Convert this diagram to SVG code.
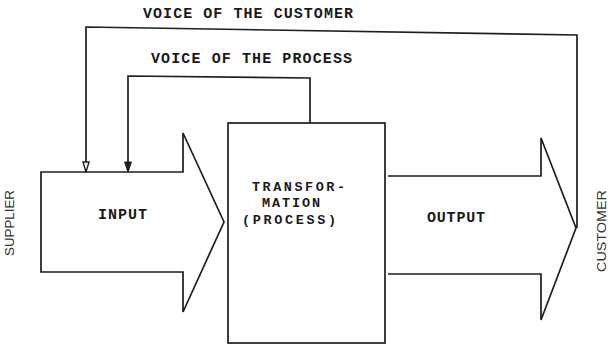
<svg xmlns="http://www.w3.org/2000/svg" width="612" height="347" viewBox="0 0 612 347">
  <defs>
    <style>
      .ln { fill: none; stroke: #1e1e1e; stroke-width: 1.7; stroke-linejoin: miter; }
      .lbl { font-family: "Liberation Mono", "DejaVu Sans Mono", monospace; font-weight: bold; font-size: 15px; fill: #1a1a1a; }
      .box-lbl { font-size: 13.5px; }
      .side { font-family: "Liberation Sans", "DejaVu Sans", sans-serif; font-size: 12px; fill: #333; }
    </style>
    <!-- arrowheads drawn along +x so orient="auto" turns them with the line -->
    <marker id="openHead" markerWidth="12" markerHeight="8" refX="11" refY="4" orient="auto" markerUnits="userSpaceOnUse" viewBox="0 0 12 8">
      <path d="M1,1 L11,4 L1,7 Z" fill="#fff" stroke="#1e1e1e" stroke-width="1.4"/>
    </marker>
    <marker id="solidHead" markerWidth="12" markerHeight="8" refX="11" refY="4" orient="auto" markerUnits="userSpaceOnUse" viewBox="0 0 12 8">
      <path d="M1,0.5 L11,4 L1,7.5 Z" fill="#1e1e1e" stroke="#1e1e1e" stroke-width="1"/>
    </marker>
  </defs>

  <rect x="0" y="0" width="612" height="347" fill="#ffffff"/>

  <!-- feedback loops -->
  <g id="connectors">
    <polyline id="voice-of-customer" class="ln" points="577,228 577,35 86,27 86,172" marker-end="url(#openHead)"/>
    <polyline id="voice-of-process" class="ln" points="310,123 310,78 128,76 128,172" marker-end="url(#solidHead)"/>
  </g>

  <g id="input">
    <polygon class="ln" points="41,172 183,172 183,133 224,222 183,312 183,272 41,272"/>
    <text class="lbl" x="98" y="219" textLength="49" lengthAdjust="spacing">INPUT</text>
  </g>

  <g id="process">
    <rect class="ln" x="228" y="123" width="157" height="220"/>
    <text class="lbl box-lbl" x="252" y="191" textLength="93" lengthAdjust="spacing">TRANSFOR-</text>
    <text class="lbl box-lbl" x="262" y="207" textLength="58" lengthAdjust="spacing">MATION</text>
    <text class="lbl box-lbl" x="242" y="224" textLength="94" lengthAdjust="spacing">(PROCESS)</text>
  </g>

  <g id="output">
    <polyline class="ln" points="388,176 541,176 541,138 576,228 541,320 541,274 388,274"/>
    <text class="lbl" x="427" y="222" textLength="58" lengthAdjust="spacing">OUTPUT</text>
  </g>

  <g id="loop-labels">
    <text class="lbl" x="143" y="18" textLength="210" lengthAdjust="spacing">VOICE OF THE CUSTOMER</text>
    <text class="lbl" x="151" y="63" textLength="201" lengthAdjust="spacing">VOICE OF THE PROCESS</text>
  </g>

  <g id="supplier">
    <text class="side" transform="translate(14,256) rotate(-90)" textLength="66" lengthAdjust="spacingAndGlyphs">SUPPLIER</text>
  </g>

  <g id="customer">
    <text class="side" transform="translate(606,272) rotate(-90)" textLength="82" lengthAdjust="spacingAndGlyphs">CUSTOMER</text>
  </g>
</svg>
